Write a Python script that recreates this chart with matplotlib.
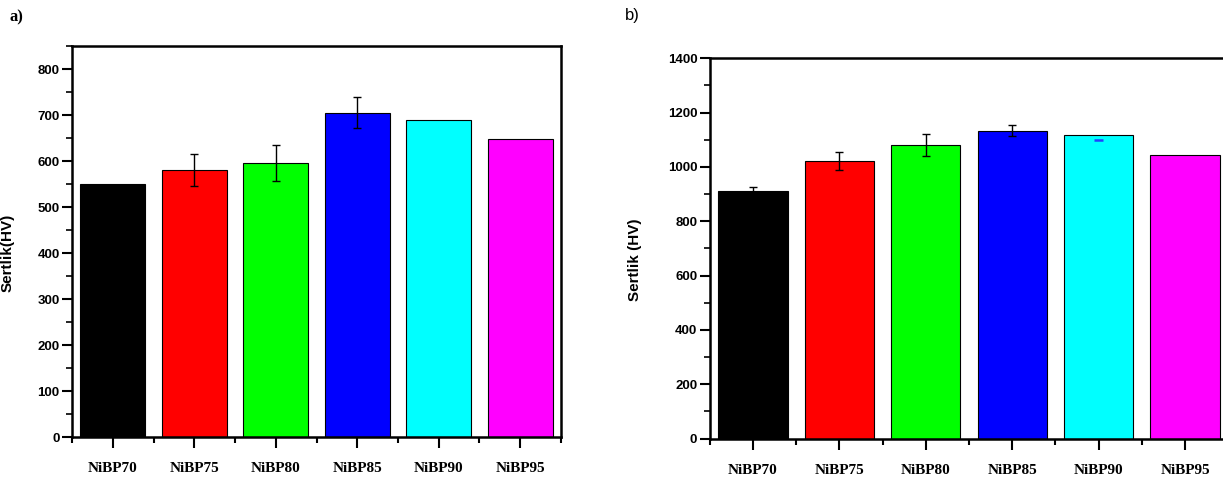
import numpy as np
import matplotlib
matplotlib.use('Agg')
import matplotlib.pyplot as plt
from matplotlib.ticker import MultipleLocator, FixedLocator

# data
samples = ['NiBP70', 'NiBP75', 'NiBP80', 'NiBP85', 'NiBP90', 'NiBP95']
colors = ['#000000', '#ff0000', '#00ff00', '#0000ff', '#00ffff', '#ff00ff']

hv_a = [550, 580, 595, 705, 690, 648]
err_a = [0, 35, 39, 34, 0, 0]

hv_b = [912, 1022, 1080, 1134, 1116, 1045]
err_b = [13, 34, 41, 21, 0, 0]
err_b_cyan_low = 18  # only the lower cap shows on NiBP90

tick_font = ['Liberation Sans Narrow', 'Liberation Sans', 'DejaVu Sans']
serif_font = ['Liberation Serif', 'DejaVu Serif']

fig = plt.figure(figsize=(12.23, 4.83), dpi=100)
ax_a = fig.add_axes([0.0589, 0.0952, 0.3998, 0.8095])
ax_b = fig.add_axes([0.5804, 0.0921, 0.4196, 0.7872])

x = np.arange(len(samples))


def draw_panel(ax, hv, err, ymax, major, minor, xmax):
    ax.bar(x, hv, width=0.8, color=colors, edgecolor='black', linewidth=0.8, zorder=2)
    # error bars only where there is one
    err = np.array(err)
    m = err > 0
    ax.errorbar(x[m], np.array(hv)[m], yerr=err[m], fmt='none', ecolor='black',
                elinewidth=1, capsize=3, capthick=1, zorder=3)
    ax.set_xlim(-0.5, xmax)
    ax.set_ylim(0, ymax)
    ax.yaxis.set_major_locator(MultipleLocator(major))
    ax.yaxis.set_minor_locator(MultipleLocator(minor))
    ax.xaxis.set_major_locator(FixedLocator(x))
    ax.xaxis.set_minor_locator(FixedLocator(np.arange(-0.5, 6.0, 1.0)))
    ax.set_xticklabels(samples, fontfamily=serif_font, fontweight='bold', fontsize=11)
    for lab in ax.get_yticklabels():
        lab.set_fontfamily(tick_font)
        lab.set_fontweight('bold')
        lab.set_fontsize(9.5)
    ax.tick_params(axis='x', which='major', direction='out', length=8, width=1.5, pad=10)
    ax.tick_params(axis='x', which='minor', direction='out', length=4, width=1.5)
    ax.tick_params(axis='y', which='major', direction='out', length=7, width=1.5, pad=2)
    ax.tick_params(axis='y', which='minor', direction='out', length=4, width=1.2)
    for s in ax.spines.values():
        s.set_linewidth(1.8)


draw_panel(ax_a, hv_a, err_a, 850, 100, 50, 5.5)
ax_a.set_ylabel('Sertlik(HV)', fontfamily=['Liberation Sans', 'DejaVu Sans'],
                fontweight='bold', fontsize=11)
ax_a.yaxis.set_label_coords(-0.117, 0.47)

draw_panel(ax_b, hv_b, err_b, 1400, 200, 100, 5.44)
ax_b.spines['right'].set_visible(False)
ax_b.hlines(hv_b[4] - err_b_cyan_low, x[4] - 0.05, x[4] + 0.05,
            color='#2040ff', linewidth=1.8, zorder=3)
ax_b.set_ylabel('Sertlik (HV)', fontfamily=['Liberation Sans', 'DejaVu Sans'],
                fontweight='bold', fontsize=11)
ax_b.yaxis.set_label_coords(-0.132, 0.47)

fig.text(0.008, 0.965, 'a)', fontfamily=serif_font, fontweight='bold', fontsize=12,
         va='center', ha='left')
fig.text(0.511, 0.968, 'b)', fontfamily=['Liberation Sans', 'DejaVu Sans'], fontsize=12,
         va='center', ha='left')

fig.savefig('out.png', dpi=100)
